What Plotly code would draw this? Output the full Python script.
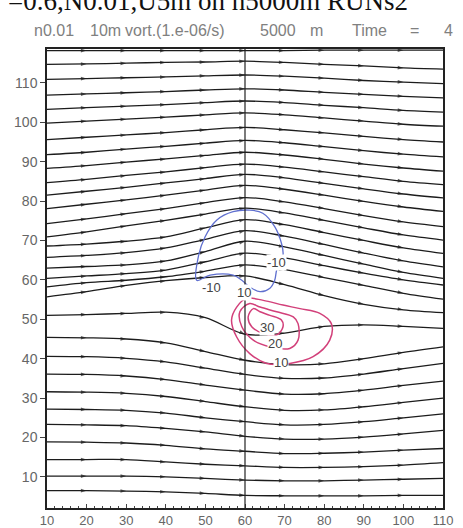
import plotly.graph_objects as go

# ---------------- data ----------------
X_COLS = [10, 20, 30, 40, 50, 60, 70, 80, 90, 100, 110]

# streamlines: y value at each X_COLS position (top to bottom)
SL01 = [118.2, 118.2, 118.2, 118.2, 118.2, 118.2, 118.2, 118.3, 118.3, 118.3, 118.3]
SL02 = [114.7, 114.8, 115.0, 115.2, 115.3, 115.5, 115.2, 114.7, 114.3, 113.8, 113.5]
SL03 = [110.9, 111.1, 111.3, 111.5, 111.8, 112.0, 111.7, 111.2, 110.6, 110.2, 109.8]
SL04 = [106.9, 107.2, 107.5, 107.8, 108.2, 108.5, 108.2, 107.6, 107.1, 106.6, 106.2]
SL05 = [103.3, 103.7, 104.1, 104.5, 105.0, 105.4, 105.0, 104.3, 103.7, 103.0, 102.6]
SL06 = [99.8, 100.3, 100.8, 101.3, 101.9, 102.4, 101.9, 101.1, 100.3, 99.5, 99.0]
SL07 = [95.6, 96.2, 96.8, 97.4, 98.1, 98.7, 98.1, 97.3, 96.4, 95.6, 95.0]
SL08 = [91.8, 92.4, 93.2, 93.9, 94.7, 95.4, 94.8, 93.8, 92.8, 91.9, 91.2]
SL09 = [88.3, 89.0, 89.9, 90.7, 91.6, 92.4, 91.7, 90.6, 89.4, 88.4, 87.6]
SL10 = [84.7, 85.5, 86.5, 87.4, 88.5, 89.4, 88.6, 87.4, 86.2, 85.0, 84.2]
SL11 = [81.5, 82.5, 83.5, 84.6, 85.7, 86.8, 85.9, 84.5, 83.1, 81.8, 80.8]
SL12 = [78.1, 79.2, 80.3, 81.5, 82.8, 84.0, 83.0, 81.5, 79.9, 78.5, 77.4]
SL13 = [74.3, 75.5, 76.8, 78.1, 79.6, 80.9, 79.8, 78.1, 76.3, 74.7, 73.5]
SL14 = [70.9, 72.2, 73.7, 75.1, 76.7, 78.2, 77.0, 75.1, 73.2, 71.4, 70.1]
SL15 = [68.6, 69.1, 69.8, 70.9, 73.2, 75.3, 74.0, 72.0, 70.0, 68.1, 66.7]
SL16 = [65.7, 66.2, 66.9, 68.1, 70.3, 72.5, 71.1, 69.0, 66.8, 64.8, 63.3]
SL17 = [63.0, 63.4, 63.8, 64.8, 67.2, 69.8, 68.4, 66.2, 64.0, 61.9, 60.4]
SL18 = [60.4, 61.0, 61.6, 62.5, 64.6, 66.8, 65.6, 63.6, 61.7, 60.0, 58.7]
SL19 = [58.2, 59.3, 59.9, 60.8, 62.2, 63.8, 62.6, 60.6, 58.6, 56.6, 55.1]
SL20 = [55.7, 57.0, 58.6, 59.8, 60.6, 61.0, 58.8, 56.0, 53.8, 52.4, 51.7]
SL21 = [51.0, 51.2, 51.5, 51.8, 50.4, 46.2, 46.5, 48.2, 48.6, 48.2, 47.7]
SL22 = [45.4, 45.3, 45.0, 44.0, 41.8, 39.6, 38.5, 38.7, 40.0, 41.6, 43.0]
SL23 = [40.6, 40.5, 40.1, 39.2, 37.6, 36.0, 35.0, 35.1, 36.1, 37.5, 38.8]
SL24 = [36.1, 36.0, 35.6, 34.7, 33.3, 32.0, 31.0, 31.1, 32.0, 33.2, 34.3]
SL25 = [31.6, 31.5, 31.2, 30.4, 29.1, 27.8, 26.9, 27.0, 27.8, 28.9, 30.0]
SL26 = [27.2, 27.1, 26.9, 26.2, 25.0, 24.0, 23.2, 23.3, 24.0, 25.0, 26.0]
SL27 = [23.3, 23.2, 23.0, 22.3, 21.4, 20.3, 19.6, 19.6, 20.1, 20.9, 21.8]
SL28 = [18.9, 18.8, 18.6, 18.0, 17.1, 16.5, 15.9, 16.0, 16.3, 16.8, 17.2]
SL29 = [14.4, 14.4, 14.4, 13.8, 13.2, 12.8, 12.4, 12.4, 12.6, 13.0, 13.6]
SL30 = [10.2, 10.2, 10.2, 10.0, 9.6, 9.2, 9.0, 9.0, 9.2, 9.4, 9.6]
SL31 = [6.5, 6.5, 6.4, 6.2, 5.8, 5.3, 5.2, 5.2, 5.2, 5.3, 5.3]
STREAMLINES = [SL01, SL02, SL03, SL04, SL05, SL06, SL07, SL08, SL09, SL10,
               SL11, SL12, SL13, SL14, SL15, SL16, SL17, SL18, SL19, SL20,
               SL21, SL22, SL23, SL24, SL25, SL26, SL27, SL28, SL29, SL30, SL31]

# vorticity contours (1e-6 /s)
NEG10_X = [47.8, 48.2, 49.9, 52.9, 57.0, 61.2, 64.5, 67.5, 69.2, 69.6, 68.0, 67.5, 66.3, 63.8, 61.2, 59.2, 57.0, 51.2, 47.8]
NEG10_Y = [59.9, 65.8, 70.9, 75.2, 77.3, 77.7, 76.9, 73.5, 69.3, 66.3, 62.5, 59.9, 57.9, 57.0, 58.2, 59.9, 61.2, 61.2, 59.9]
POS10_X = [60.4, 57.9, 56.6, 57.9, 61.2, 65.5, 71.3, 77.2, 81.4, 81.8, 78.9, 73.9, 69.6, 64.6, 60.4]
POS10_Y = [55.3, 53.1, 49.8, 45.5, 41.3, 38.8, 38.8, 40.5, 44.7, 48.9, 51.5, 52.7, 53.6, 54.8, 55.3]
POS20_X = [61.2, 58.7, 59.2, 62.1, 66.3, 71.3, 73.4, 73.4, 72.2, 68.0, 63.8, 61.2]
POS20_Y = [54.0, 51.9, 48.1, 44.7, 43.0, 42.6, 44.7, 48.9, 50.6, 51.9, 53.1, 54.0]
POS30_X = [62.1, 60.8, 61.7, 64.6, 68.0, 69.6, 69.2, 66.3, 63.8, 62.1]
POS30_Y = [52.7, 50.6, 48.1, 46.4, 46.0, 48.1, 49.8, 51.0, 51.9, 52.7]

LABEL_TEXT = ["-10", "-10", "10", "30", "20", "10"]
LABEL_X = [68.0, 51.6, 59.8, 65.6, 67.5, 69.2]
LABEL_Y = [64.5, 58.1, 56.9, 48.0, 43.8, 39.1]

SECTION_X = 60
X_TICKS = [10, 20, 30, 40, 50, 60, 70, 80, 90, 100, 110]
Y_TICKS = [10, 20, 30, 40, 50, 60, 70, 80, 90, 100, 110]

TITLE = "=0.6,N0.01,U5m on h5000m RUNs2"
SUB_WORDS = ["n0.01", "10m", "vort.(1.e-06/s)", "5000", "m", "Time", "=", "4"]
SUB_PX = [32, 88, 123, 258, 308, 350, 408, 442]

# ---------------- figure ----------------
W, H = 463, 528
ML, MR, MT, MB = 47, 20, 49, 20
PW, PH = W - ML - MR, H - MT - MB

fig = go.Figure()

n = len(X_COLS)
for ys in STREAMLINES:
    sizes = [0] + [6] * (n - 2) + [0]
    fig.add_trace(go.Scatter(
        x=X_COLS, y=ys, mode="lines+markers",
        line=dict(color="#1c1c1c", width=1.3, shape="spline", smoothing=0.9),
        marker=dict(symbol="arrow", size=sizes, color="#1c1c1c", angleref="previous",
                    line=dict(width=0)),
        hoverinfo="skip", showlegend=False))

fig.add_trace(go.Scatter(x=NEG10_X, y=NEG10_Y, mode="lines",
                         line=dict(color="#5f6fcf", width=1.3, shape="spline"),
                         hoverinfo="skip", showlegend=False))
for cx, cy in [(POS10_X, POS10_Y), (POS20_X, POS20_Y), (POS30_X, POS30_Y)]:
    fig.add_trace(go.Scatter(x=cx, y=cy, mode="lines",
                             line=dict(color="#d2407a", width=1.5, shape="spline"),
                             hoverinfo="skip", showlegend=False))

fig.add_shape(type="line", xref="x", yref="paper", x0=SECTION_X, x1=SECTION_X,
              y0=0, y1=1, line=dict(color="#222", width=1.2))

for t, lx, ly in zip(LABEL_TEXT, LABEL_X, LABEL_Y):
    fig.add_annotation(x=lx, y=ly, xref="x", yref="y", text=t, showarrow=False,
                       font=dict(family="Liberation Sans", size=13, color="#444"),
                       bgcolor="white", borderpad=0)

fig.add_annotation(xref="paper", yref="paper", x=(6 - ML) / PW, y=1 + (MT - 1) / PH,
                   xanchor="left", yanchor="middle", text=TITLE, showarrow=False,
                   font=dict(family="Liberation Serif", size=27, color="#111"))
for wtxt, px in zip(SUB_WORDS, SUB_PX):
    fig.add_annotation(xref="paper", yref="paper", x=(px - ML) / PW, y=1 + (MT - 30) / PH,
                       xanchor="left", yanchor="middle", text=wtxt, showarrow=False,
                       font=dict(family="Liberation Sans", size=16, color="#808080"))

axis_common = dict(showgrid=False, zeroline=False, showline=True, mirror=True,
                   linecolor="#222", linewidth=1.5,
                   tickcolor="#444", tickwidth=1, automargin=False)
fig.update_xaxes(range=[10, 110], tickvals=X_TICKS, ticks="inside", ticklen=4,
                 minor=dict(ticks="inside", ticklen=2, dtick=2, tickcolor="#444"),
                 tickfont=dict(family="Liberation Sans", size=13, color="#666"),
                 **axis_common)
fig.update_yaxes(range=[2.1, 118.6], tickvals=Y_TICKS, ticks="outside", ticklen=5,
                 tickfont=dict(family="Liberation Sans", size=14, color="#666"),
                 **axis_common)

fig.update_layout(width=W, height=H, margin=dict(l=ML, r=MR, t=MT, b=MB, autoexpand=False),
                  plot_bgcolor="white", paper_bgcolor="white", showlegend=False)

fig.write_html("out.html", config={"displayModeBar": False},
               post_script="document.body.style.margin='0';document.body.style.overflow='hidden';")
